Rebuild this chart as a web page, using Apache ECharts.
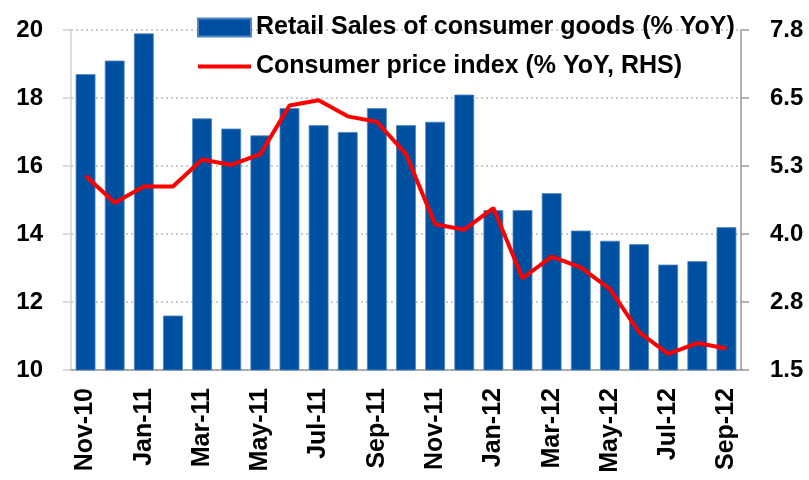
<!DOCTYPE html>
<html>
<head>
<meta charset="utf-8">
<script src="https://cdn.jsdelivr.net/npm/echarts@6/dist/echarts.min.js"></script>
<style>
  html, body { margin: 0; padding: 0; background: #fff; }
  #chart { width: 809px; height: 480px; }
</style>
</head>
<body>
<div id="chart"></div>
<script>
var months = ['Nov-10', 'Dec-10', 'Jan-11', 'Feb-11', 'Mar-11', 'Apr-11', 'May-11', 'Jun-11',
    'Jul-11', 'Aug-11', 'Sep-11', 'Oct-11', 'Nov-11', 'Dec-11', 'Jan-12', 'Feb-12',
    'Mar-12', 'Apr-12', 'May-12', 'Jun-12', 'Jul-12', 'Aug-12', 'Sep-12'];
var retailSales = [18.7, 19.1, 19.9, 11.6, 17.4, 17.1, 16.9, 17.7, 17.2, 17.0, 17.7, 17.2,
    17.3, 18.1, 14.7, 14.7, 15.2, 14.1, 13.8, 13.7, 13.1, 13.2, 14.2];
var cpi = [5.1, 4.6, 4.9, 4.9, 5.4, 5.3, 5.5, 6.4, 6.5, 6.2, 6.1, 5.5,
    4.2, 4.1, 4.5, 3.2, 3.6, 3.4, 3.0, 2.2, 1.8, 2.0, 1.9];

var labelFont = 'Liberation Sans';

var chart = echarts.init(document.getElementById('chart'));
chart.setOption({
    animation: false,
    grid: { left: 71, right: 68, top: 30, bottom: 110 },
    legend: {
        orient: 'vertical',
        left: 192,
        top: 10,
        itemWidth: 53,
        itemHeight: 18,
        itemGap: 14,
        textStyle: { fontFamily: labelFont, fontWeight: 'bold', fontSize: 25, lineHeight: 25, color: '#000' },
        data: [
            { name: 'Retail Sales of consumer goods (% YoY)', icon: 'rect' },
            { name: 'Consumer price index (% YoY, RHS)', icon: 'path://M0,0 L53,0 L53,4 L0,4 Z' }
        ]
    },
    xAxis: {
        type: 'category',
        data: months,
        axisLine: { lineStyle: { color: '#999', width: 1.5 } },
        axisTick: { interval: 1, length: 8, lineStyle: { color: '#999', width: 1.5 } },
        axisLabel: {
            interval: 1,
            rotate: 90,
            margin: 18,
            fontFamily: labelFont,
            fontWeight: 'bold',
            fontSize: 25,
            color: '#000'
        }
    },
    yAxis: [
        {
            type: 'value',
            min: 10,
            max: 20,
            interval: 2,
            axisLine: { show: true, lineStyle: { color: '#d0d0d0', width: 1.5 } },
            axisTick: { show: true, length: 8, lineStyle: { color: '#d0d0d0', width: 1.5 } },
            axisLabel: { margin: 28, fontFamily: labelFont, fontWeight: 'bold', fontSize: 24, color: '#000' },
            splitLine: { lineStyle: { color: '#bbb', type: [2, 3], width: 1.5 } }
        },
        {
            type: 'value',
            min: 1.5,
            max: 7.8,
            interval: 1.26,
            position: 'right',
            axisLine: { show: true, lineStyle: { color: '#999', width: 1.5 } },
            axisTick: { show: true, length: 8, lineStyle: { color: '#999', width: 1.5 } },
            axisLabel: {
                margin: 29,
                fontFamily: labelFont,
                fontWeight: 'bold',
                fontSize: 24,
                color: '#000',
                formatter: function (v) { return v.toFixed(1); }
            },
            splitLine: { show: false }
        }
    ],
    series: [
        {
            name: 'Retail Sales of consumer goods (% YoY)',
            type: 'bar',
            data: retailSales,
            barCategoryGap: '32%',
            itemStyle: { color: '#0050a2', borderColor: '#4d85c0', borderWidth: 0.8 }
        },
        {
            name: 'Consumer price index (% YoY, RHS)',
            type: 'line',
            yAxisIndex: 1,
            data: cpi,
            symbol: 'none',
            lineStyle: { color: '#ff0000', width: 4 },
            itemStyle: { color: '#ff0000' }
        }
    ]
});
</script>
</body>
</html>
